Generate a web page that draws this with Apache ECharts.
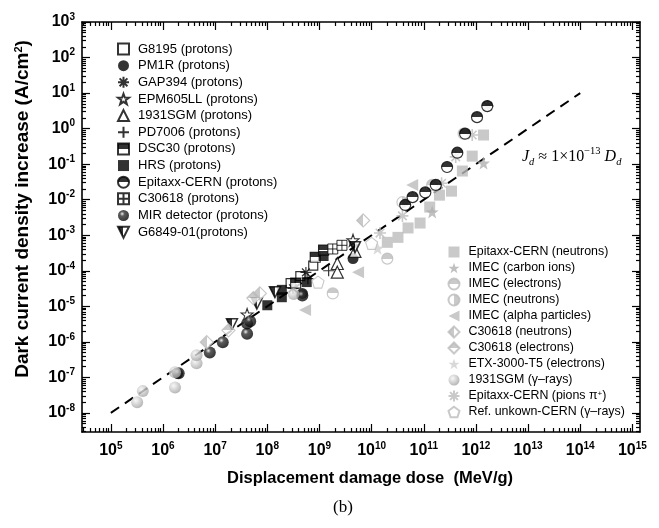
<!DOCTYPE html>
<html><head><meta charset="utf-8">
<script src="https://cdn.jsdelivr.net/npm/echarts@6/dist/echarts.min.js"></script>
<style>html,body{margin:0;padding:0;background:#fff}#c{width:659px;height:528px}</style>
</head><body><div id="c"></div>
<script>
// ---------- tick values ----------
const xMajor = [1e5,1e6,1e7,1e8,1e9,1e10,1e11,1e12,1e13,1e14,1e15];
const yMajor = [1e-8,1e-7,1e-6,1e-5,1e-4,1e-3,1e-2,1e-1,1e0,1e1,1e2,1e3];
const X_MIN = 2.8e4, X_MAX = 1.4e15, Y_MIN = 2.9e-9, Y_MAX = 1.0001e3;

// ---------- data (dose MeV/g, current density A/cm2) ----------
const g8195    = [[2.8e8,4.5e-5],[4.3e8,7.1e-5],[7.6e8,1.4e-4]];
const pm1r     = [[1.9e6,1.3e-7],[4.7e8,2.3e-5],[4.4e9,2.2e-4]];
const gap394   = [[3.1e8,3.2e-5],[5.5e8,9.0e-5]];
const epm605ll = [[4.1e7,5.9e-6],[4.4e9,7.2e-4]];
const sgm1931p = [[2.2e9,1.6e-4],[2.2e9,9.1e-5],[4.8e9,3.5e-4]];
const pd7006   = [[1.5e9,1.0e-4],[6.0e8,6.0e-5]];
const dsc30    = [[3.5e8,4.5e-5],[8.3e8,2.4e-4],[1.2e9,3.8e-4]];
const hrs      = [[1.0e8,1.07e-5],[1.9e8,1.8e-5],[1.9e8,2.9e-5],[5.7e8,4.8e-5],[1.2e9,2.6e-4]];
const epitaxxP = [[4.4e10,7.1e-3],[6.1e10,1.18e-2],[1.07e11,1.6e-2],[1.7e11,2.6e-2],[2.8e11,8.3e-2],[4.4e11,0.21],[6.2e11,0.72],[1.05e12,2.1],[1.65e12,4.3]];
const c30618p  = [[1.8e9,4.1e-4],[2.7e9,5.2e-4]];
const mir      = [[2.0e6,1.3e-7],[7.9e6,5.0e-7],[1.4e7,9.8e-7],[4.1e7,1.7e-6],[4.1e7,3.3e-6],[4.7e7,3.8e-6],[4.7e8,2.0e-5]];
const g6849    = [[2.1e7,3.1e-6],[6.3e7,1.2e-5],[1.4e8,2.5e-5],[4.8e9,4.6e-4]];

const epitaxxN = [[2.0e10,6.3e-4],[3.2e10,8.7e-4],[5.0e10,1.6e-3],[8.5e10,2.2e-3],[1.3e11,6.2e-3],[2.0e11,1.34e-2],[3.4e11,1.74e-2],[5.5e11,6.4e-2],[8.5e11,0.168],[1.4e12,0.66]];
const imecC    = [[1.45e11,4.5e-3],[1.4e12,0.107]];
const imecE    = [[1.8e9,2.3e-5],[2.0e10,2.2e-4],[1.45e11,0.026],[5.8e11,0.72]];
const imecN    = [[3.9e10,8.5e-3]];
const imecA    = [[5.3e8,7.8e-6],[5.5e9,9.1e-5],[6.0e10,2.6e-2]];
const c30618N  = [[6.9e6,9.8e-7],[7.2e7,2.3e-5],[6.9e9,2.6e-3]];
const c30618E  = [[1.8e7,2.1e-6],[5.4e7,1.7e-5]];
const etx      = [[1.3e10,4.3e-4]];
const sgmGamma = [[3.2e5,2.0e-8],[4.1e5,4.1e-8],[1.7e6,5.2e-8],[1.7e6,1.4e-7],[4.4e6,2.5e-7],[4.4e6,4.2e-7],[3.2e8,2.2e-5]];
const pions    = [[1.45e10,1.15e-3],[3.9e10,3.5e-3],[2.2e11,2.9e-2],[4.1e11,0.16],[8.5e11,0.66],[1.7e12,4.3]];
const refUnk   = [[9.4e8,4.8e-5],[1.0e10,5.9e-4]];

const fitLine  = [[1e5,1e-8],[1e14,1e1]];

// ---------- styles ----------
const GRAY = '#bcbcbc';
const FONT = 'Liberation Sans, Arial, sans-serif';
const halfV = (a,b)=>({type:'linear',x:0,y:0,x2:0,y2:1,colorStops:[{offset:0,color:a},{offset:0.5,color:a},{offset:0.5,color:b},{offset:1,color:b}]});
const halfH = (a,b)=>({type:'linear',x:0,y:0,x2:1,y2:0,colorStops:[{offset:0,color:a},{offset:0.5,color:a},{offset:0.5,color:b},{offset:1,color:b}]});
const sphere = (stops)=>({type:'radial',x:0.38,y:0.35,r:0.7,colorStops:stops});
const STAR = 'path://M10 0 L12.35 6.76 L19.51 6.91 L13.8 11.24 L15.88 18.09 L10 14 L4.12 18.09 L6.2 11.24 L0.49 6.91 L7.65 6.76 Z';
const PENT = 'path://M10 0 L19.51 6.91 L15.88 18.09 L4.12 18.09 L0.49 6.91 Z';
const ASTER = 'path://M10 0 L10 20 M2.9 2.9 L17.1 17.1 M17.1 2.9 L2.9 17.1 M0 10 L20 10';
const PLUS = 'path://M10 0 L10 20 M0 10 L20 10';
const BOXPLUS = 'path://M0 0 L20 0 L20 20 L0 20 Z M10 0 L10 20 M0 10 L20 10';
const TRI_L = 'path://M0 10 L20 0 L20 20 Z';
const TRI_D = 'path://M0 0 L20 0 L10 20 Z';

function sc(name, data, symbol, size, itemStyle, z){
  return {type:'scatter', name, data, symbol, symbolSize:size, itemStyle, z: z||2};
}
const BLK = {color:'#000'};
const series = [
  sc('G8195 (protons)', g8195, 'rect', 9, {color:'#fff', borderColor:'#000', borderWidth:1.2}),
  sc('PM1R (protons)', pm1r, 'circle', 11, BLK),
  sc('GAP394 (protons)', gap394, ASTER, 11, {color:'#000', borderColor:'#000', borderWidth:1.2}),
  sc('EPM605LL (protons)', epm605ll, STAR, 12, {color:'#fff', borderColor:'#000', borderWidth:1.1}),
  sc('1931SGM (protons)', sgm1931p, 'triangle', 12, {color:'#fff', borderColor:'#000', borderWidth:1.2}),
  sc('PD7006 (protons)', pd7006, PLUS, 11, {color:'#000', borderColor:'#000', borderWidth:1.2}),
  sc('DSC30 (protons)', dsc30, 'rect', 10, {color:halfV('#000','#fff'), borderColor:'#000', borderWidth:1.2}),
  sc('HRS (protons)', hrs, 'rect', 10, BLK),
  sc('Epitaxx-CERN (protons)', epitaxxP, 'circle', 11, {color:halfV('#000','#fff'), borderColor:'#000', borderWidth:1.2}, 4),
  sc('C30618 (protons)', c30618p, BOXPLUS, 10, {color:'#fff', borderColor:'#000', borderWidth:1}),
  sc('MIR detector (protons)', mir, 'circle', 12, {color:sphere([{offset:0,color:'#e8e8e8'},{offset:0.3,color:'#333'},{offset:1,color:'#000'}])}),
  sc('G6849-01(protons)', g6849, TRI_D, 11, {color:halfH('#000','#fff'), borderColor:'#000', borderWidth:1.5}),

  sc('Epitaxx-CERN (neutrons)', epitaxxN, 'rect', 11, {color:GRAY}),
  sc('IMEC (carbon ions)', imecC, STAR, 13, {color:'#b0b0b0'}),
  sc('IMEC (electrons)', imecE, 'circle', 11, {color:halfV(GRAY,'#fff'), borderColor:GRAY, borderWidth:1.2}),
  sc('IMEC (neutrons)', imecN, 'circle', 11, {color:halfH('#fff',GRAY), borderColor:GRAY, borderWidth:1.2}),
  sc('IMEC (alpha particles)', imecA, TRI_L, 12, {color:GRAY}),
  sc('C30618 (neutrons)', c30618N, 'diamond', 13, {color:halfH(GRAY,'#fff'), borderColor:GRAY, borderWidth:1.2}),
  sc('C30618 (electrons)', c30618E, 'diamond', 13, {color:halfV(GRAY,'#fff'), borderColor:GRAY, borderWidth:1.2}),
  sc('ETX-3000-T5 (electrons)', etx, STAR, 13, {color:'#cfcfcf'}),
  sc('1931SGM (\u03b3\u2013rays)', sgmGamma, 'circle', 12, {color:sphere([{offset:0,color:'#f6f6f6'},{offset:1,color:'#a0a0a0'}])}),
  sc('Epitaxx-CERN (pions \u03c0{s|+})', pions, ASTER, 12, {color:GRAY, borderColor:GRAY, borderWidth:1.6}),
  sc('Ref. unkown-CERN (\u03b3\u2013rays)', refUnk, PENT, 12, {color:'#fff', borderColor:GRAY, borderWidth:1.1}),
  {type:'line', name:'fit', data:fitLine, symbol:'none', silent:true, z:1,
   lineStyle:{color:'#000', width:2, type:[10,7]}}
];
const leftNames = series.slice(0,12).map(s=>s.name);
const rightNames = series.slice(12,23).map(s=>s.name);

const lblRich = {
  b:{fontFamily:FONT, fontWeight:'bold', fontSize:16, color:'#000', lineHeight:20},
  s:{fontFamily:FONT, fontWeight:'bold', fontSize:10, color:'#000', lineHeight:8, verticalAlign:'top'}
};
const fmt = v => '{b|10}{s|' + Math.round(Math.log10(v)) + '}';
function minorOf(lo, hi){
  const out=[]; for(let e=-10;e<=16;e++){ for(let m=2;m<=9;m++){ const v=m*Math.pow(10,e); if(v>lo&&v<hi) out.push(v);} } return out;
}
const xMinor = minorOf(X_MIN, X_MAX);
const yMinor = minorOf(Y_MIN, Y_MAX);
const LINE = {show:true, lineStyle:{color:'#000', width:1.6}};
function ax(type, pos, vals, len, line, label, extra){
  return Object.assign({type:'log', position:pos, min: type==='x'?X_MIN:Y_MIN, max: type==='x'?X_MAX:Y_MAX,
    axisLine: line?LINE:{show:false},
    axisTick:{show:true, inside:true, length:len, customValues:vals, lineStyle:{color:'#000', width:1.2}},
    axisLabel: label || {show:false},
    splitLine:{show:false}, minorTick:{show:false}}, extra||{});
}
const option = {
  animation:false,
  backgroundColor:'#fff',
  grid:{left:82, right:19, top:22, bottom:96, containLabel:false},
  xAxis:[
    ax('x','bottom',xMajor,8,true,{customValues:xMajor, formatter:fmt, rich:lblRich, margin:9},
      {name:'Displacement damage dose  (MeV/g)', nameLocation:'middle', nameGap:38,
       nameTextStyle:{fontFamily:FONT, fontWeight:'bold', fontSize:16.5, color:'#000', padding:[0,0,0,18]}}),
    ax('x','bottom',xMinor,4,false),
    ax('x','top',xMajor,8,true),
    ax('x','top',xMinor,4,false)
  ],
  yAxis:[
    ax('y','left',yMajor,8,true,{customValues:yMajor, formatter:fmt, rich:lblRich, margin:7},
      {name:'Dark current density increase (A/cm{s|2})', nameLocation:'middle', nameGap:50,
       nameTextStyle:{fontFamily:FONT, fontWeight:'bold', fontSize:19, color:'#000', padding:[0,0,0,36],
         rich:{s:{fontFamily:FONT, fontWeight:'bold', fontSize:11, color:'#000', lineHeight:8, verticalAlign:'top'}}}}),
    ax('y','left',yMinor,4,false),
    ax('y','right',yMajor,8,true),
    ax('y','right',yMinor,4,false)
  ],
  legend:[
    {data:leftNames, orient:'vertical', left:112, top:37.5, padding:5, itemWidth:11, itemHeight:11, itemGap:3.65,
     selectedMode:false,
     textStyle:{fontFamily:FONT, fontSize:13, color:'#000', lineHeight:13, padding:[0,0,0,4]}},
    {data:rightNames, orient:'vertical', left:442.5, top:240.5, padding:5, itemWidth:11, itemHeight:11, itemGap:3,
     selectedMode:false,
     textStyle:{fontFamily:FONT, fontSize:12.4, color:'#000', lineHeight:13, padding:[0,0,0,4],
       rich:{s:{fontFamily:FONT, fontSize:8, color:'#000', lineHeight:6, verticalAlign:'top'}}}}
  ],
  graphic:[
    {type:'text', left:522, top:146, style:{
      text:'{i|J}{sub|d}{t| \u2248 1\u00d710}{sup|\u221213}{i| D}{sub|d}',
      rich:{
        i:{fontFamily:'Liberation Serif', fontStyle:'italic', fontSize:16, lineHeight:22, fill:'#000'},
        t:{fontFamily:'Liberation Serif', fontSize:16, lineHeight:22, fill:'#000'},
        sub:{fontFamily:'Liberation Serif', fontStyle:'italic', fontSize:10.5, lineHeight:8, verticalAlign:'bottom', fill:'#000'},
        sup:{fontFamily:'Liberation Serif', fontSize:10.5, lineHeight:8, verticalAlign:'top', fill:'#000'}
      }}},
    {type:'text', left:333, top:499, style:{text:'(b)', fontFamily:'Liberation Serif', fontSize:17, fill:'#000'}}
  ],
  series
};
const chart = echarts.init(document.getElementById('c'), null, {renderer:'canvas'});
chart.setOption(option);
</script></body></html>
